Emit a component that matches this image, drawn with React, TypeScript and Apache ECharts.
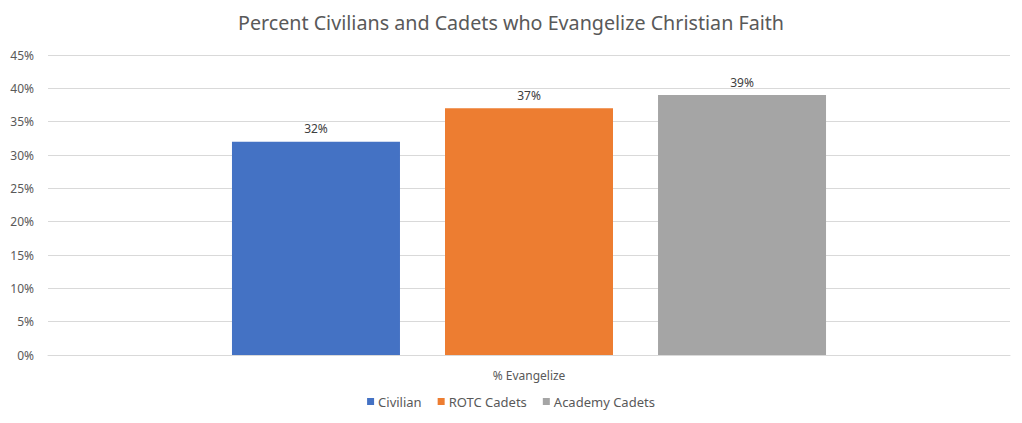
import React, { useEffect, useRef } from "react";
import * as echarts from "echarts";

const categories = ["% Evangelize"];
const seriesNames = ["Civilian", "ROTC Cadets", "Academy Cadets"];
const civilian = [32];
const rotc = [37];
const academy = [39];
const colors = ["#4472C4", "#ED7D31", "#A5A5A5"];
const yTicks = { min: 0, max: 45, interval: 5 };

const FONT = "'Noto Sans', 'Open Sans', sans-serif";

export default function App() {
  const ref = useRef<HTMLDivElement>(null);
  useEffect(() => {
    if (!ref.current) return;
    const chart = echarts.init(ref.current, undefined, { renderer: "svg" });
    const values = [civilian, rotc, academy];
    chart.setOption({
      animation: false,
      backgroundColor: "#ffffff",
      textStyle: { fontFamily: FONT },
      title: {
        text: "Percent Civilians and Cadets who Evangelize Christian Faith",
        left: "center",
        top: 7,
        textStyle: { fontFamily: FONT, fontSize: 19.7, fontWeight: "normal", color: "#595959" },
      },
      grid: { left: 48, right: 12, top: 55, bottom: 68, containLabel: false },
      legend: {
        bottom: 10,
        left: "center",
        itemWidth: 7,
        itemHeight: 7,
        itemGap: 16,
        icon: "rect",
        textStyle: { fontFamily: FONT, fontSize: 13, color: "#595959", padding: [0, 0, 0, -1] },
        data: seriesNames,
      },
      xAxis: {
        type: "category",
        data: categories,
        axisLine: { lineStyle: { color: "#D9D9D9" } },
        axisTick: { show: false },
        axisLabel: { fontFamily: FONT, fontSize: 12, color: "#595959", margin: 14 },
      },
      yAxis: {
        type: "value",
        min: yTicks.min,
        max: yTicks.max,
        interval: yTicks.interval,
        axisLine: { show: false },
        axisTick: { show: false },
        splitLine: { lineStyle: { color: "#D9D9D9" } },
        axisLabel: {
          fontFamily: FONT,
          fontSize: 12,
          color: "#595959",
          margin: 14,
          formatter: (v: number) => v + "%",
        },
      },
      series: seriesNames.map((name, i) => ({
        name,
        type: "bar",
        data: values[i],
        barWidth: 168,
        barGap: "26.8%",
        itemStyle: { color: colors[i] },
        label: {
          show: true,
          position: "top",
          distance: 7,
          fontFamily: FONT,
          fontSize: 12,
          color: "#404040",
          formatter: (p: any) => p.value + "%",
        },
      })),
    });
    return () => chart.dispose();
  }, []);
  return (
    <div
      ref={ref}
      style={{ position: "absolute", left: 0, top: 0, width: 1022, height: 423 }}
    />
  );
}
